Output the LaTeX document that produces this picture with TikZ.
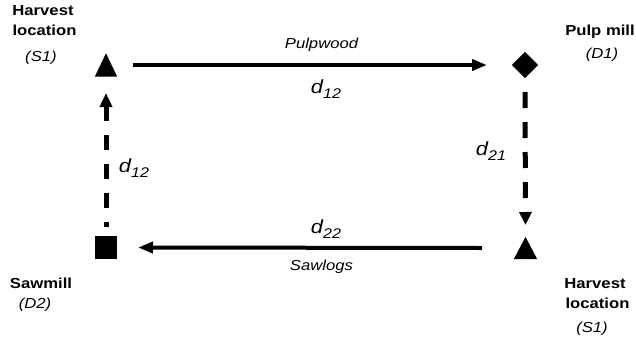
\documentclass[tikz,border=0pt]{standalone}
\usepackage{fontspec}
\setmainfont[FakeStretch=1.15]{Liberation Sans}
\usetikzlibrary{arrows.meta}
\newcommand{\dlab}[2]{{\fontsize{19}{19}\selectfont\itshape #1}\raisebox{-5pt}{\fontsize{14}{14}\selectfont\itshape #2}}
\begin{document}
\begin{tikzpicture}[x=1pt,y=-1pt,
  lbl/.style={anchor=base,inner sep=0,font=\fontsize{14.5}{17}\selectfont\bfseries},
  sub/.style={anchor=base,inner sep=0,font=\fontsize{14.5}{17}\selectfont\itshape},
  dl/.style={anchor=base,inner sep=0},
  mark box/.style={inner sep=0,minimum width=#1,minimum height=#1},
  flow/.style={line width=4pt,-{Triangle[length=15pt,width=11pt]}},
  dflow/.style={line width=5pt,dash pattern=on 16pt off 14pt,-{Triangle[length=13pt,width=12pt]}}]
\useasboundingbox (0,0) rectangle (636,343);
% markers
\node[mark box=22pt,minimum height=23pt] (tl) at (106,65) {};
\fill (tl.south west) -- (tl.south east) -- (tl.north) -- cycle;
\node[mark box=26pt] (dm) at (525,65) {};
\fill (dm.north) -- (dm.east) -- (dm.south) -- (dm.west) -- cycle;
\node[mark box=22pt,minimum height=23pt] (sq) at (106,247.5) {};
\fill (sq.south west) rectangle (sq.north east);
\node[mark box=23pt,minimum height=22pt] (br) at (525.5,248) {};
\fill (br.south west) -- (br.south east) -- (br.north) -- cycle;
% connectors
\draw[flow] ([xshift=27pt]tl.center) -- ([xshift=-38pt]dm.center);
\draw[flow] ([xshift=-43.5pt]br.center) -- ([xshift=32pt]sq.center);
\draw[dflow] ([yshift=-27pt]dm.center) -- ([yshift=23pt]br.center);
\draw[dflow,dash pattern=on 15pt off 14pt,-,{Triangle[length=14pt,width=12pt]}-]
  ([yshift=-28pt]tl.center) -- ([yshift=20.5pt]sq.center);
% labels
\node[lbl] (h1) at (43,15) {Harvest};
\node[lbl] (l1) at (44.5,35) {location};
\node[sub] (s1) at (41,61) {(S1)};
\node[lbl] (pm) at (600,35) {Pulp mill};
\node[sub] (d1) at (602,58) {(D1)};
\node[lbl] (sw) at (41,288) {Sawmill};
\node[sub] (d2) at (35,308) {(D2)};
\node[lbl] (h2) at (595,288) {Harvest};
\node[lbl] (l2) at (597.5,308) {location};
\node[sub] (s2) at (592,332) {(S1)};
% flow labels
\node[sub] (pw) at (321.5,48) {Pulpwood};
\node[sub] (sl) at (321.5,270) {Sawlogs};
\node[dl] (dtop) at (326,93) {\dlab{d}{12}};
\node[dl] (dbot) at (326,233) {\dlab{d}{22}};
\node[dl] (dleft) at (134,172) {\dlab{d}{12}};
\node[dl] (dright) at (491,155) {\dlab{d}{21}};
\end{tikzpicture}
\end{document}
